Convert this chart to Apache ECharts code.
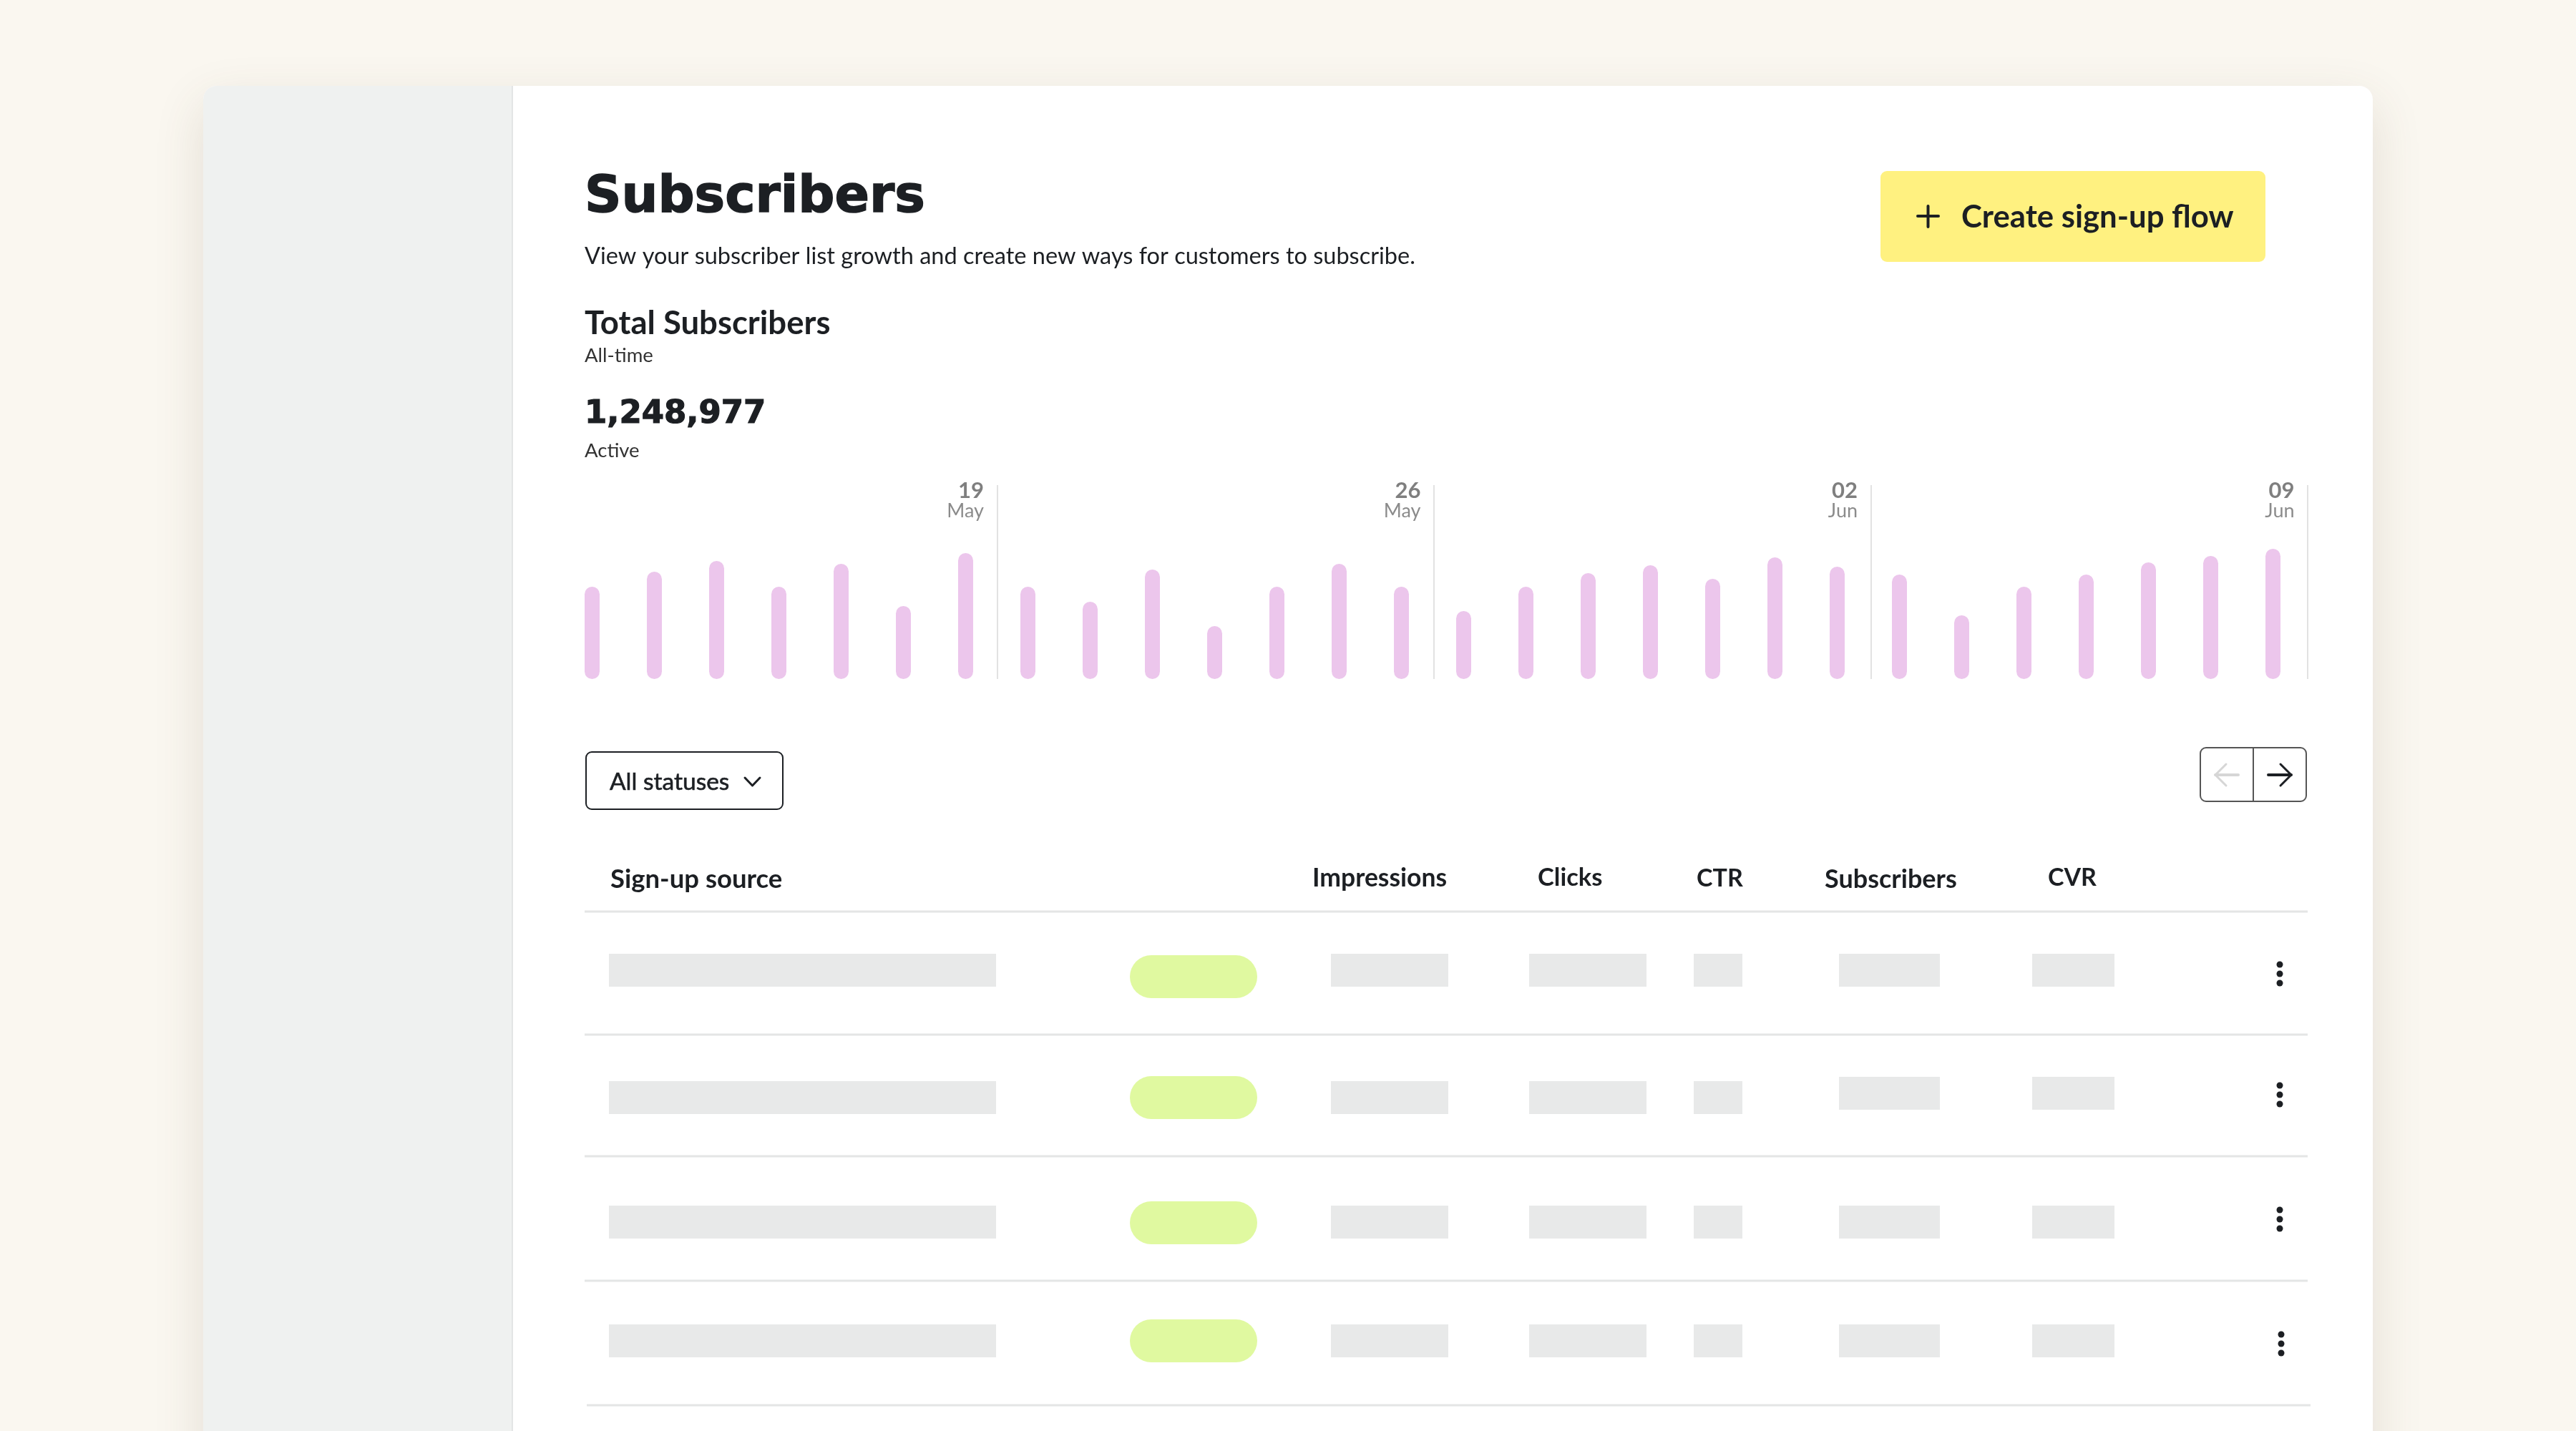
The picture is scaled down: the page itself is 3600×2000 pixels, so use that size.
<!DOCTYPE html>
<html>
<head>
<meta charset="utf-8">
<title>Subscribers</title>
<script src="https://cdn.jsdelivr.net/npm/echarts@6/dist/echarts.min.js"></script>
<style>
    html, body { margin: 0; padding: 0; background: #faf7f0; }
    #main { width: 3600px; height: 2000px; }
</style>
</head>
<body>
<div id="main"></div>
<script>
// daily new subscribers
const dailyValues = [
    129, 150, 165, 129, 161, 102, 176,
    129, 108, 153, 74, 129, 161, 129,
    95, 129, 148, 159, 140, 170, 157,
    146, 89, 129, 146, 163, 172, 182,
];
const dayIndex = dailyValues.map((v, i) => i + 1);

const weekEnds = [7, 14, 21, 28];
const weekDays = ["19", "26", "02", "09"];
const weekMonths = ["May", "May", "Jun", "Jun"];

const tableHeaders = ["Sign-up source", "Impressions", "Clicks", "CTR", "Subscribers", "CVR"];

const SANS = "Lato, 'Noto Sans', sans-serif";
const WIDE = "'DejaVu Sans', sans-serif";
const INK = "#1c1f23";
const RULE = "#e4e5e5";
const CELL = "#e8e9e9";
const PILL = "#e0f9a0";

// table layout, in page pixels
const headerX = [853, 1834, 2149, 2371, 2550, 2862];
const headerY = [1229, 1228, 1227, 1228, 1229, 1227];
const headerSize = [36.5, 35.5, 34.5, 34, 36, 34];
const ruleY = [1274, 1446, 1616, 1790, 1964];
const cellX = [[851, 1392], [1860, 2024], [2137, 2301], [2367, 2435], [2570, 2711], [2840, 2955]];
const rowTop = [1333, 1511, 1685, 1851];
const lateRowTop = [1333, 1505, 1685, 1851]; // last two columns of row 2 sit higher
const pillTop = [1335, 1504, 1679, 1844];
const menuY = [1361, 1530, 1704, 1878];
const menuX = [3186, 3186, 3186, 3188];

function txt(text, x, y, size, weight, color, family, bolder) {
    const style = {
        text: text, x: x, y: y, fill: color || INK,
        fontSize: size, fontWeight: weight || 400, fontFamily: family || SANS,
        textVerticalAlign: "middle",
    };
    if (bolder) {
        // no medium/black cut installed, thicken the outline
        style.stroke = color || INK;
        style.lineWidth = bolder;
    }
    return { type: "text", style: style };
}

function box(x, y, w, h, fill, r) {
    return { type: "rect", shape: { x: x, y: y, width: w, height: h, r: r || 0 }, style: { fill: fill } };
}

function stroke(points, color, width) {
    return {
        type: "polyline",
        shape: { points: points },
        style: { stroke: color, lineWidth: width, fill: null, lineCap: "round", lineJoin: "round" },
    };
}

function buildPage() {
    const els = [];

    // card and sidebar
    els.push({
        type: "rect",
        shape: { x: 284, y: 120, width: 3032, height: 2000, r: 19 },
        style: { fill: "#fff", shadowBlur: 70, shadowColor: "rgba(90,70,50,0.14)", shadowOffsetY: 24 },
    });
    els.push(box(284, 120, 431, 2000, "#eff1f0", [19, 0, 0, 19]));
    els.push(box(715, 120, 2, 2000, "#e3e5e5"));

    // heading block
    els.push(txt("Subscribers", 817, 277, 71.5, 700, INK, WIDE, 1.5));
    els.push(txt("View your subscriber list growth and create new ways for customers to subscribe.", 817, 359, 32.5, 400));
    els.push(txt("Total Subscribers", 817, 452, 45.5, 700));
    els.push(txt("All-time", 817, 497, 27.5, 400, "#333"));
    els.push(txt("1,248,977", 817, 579, 45, 700, INK, WIDE, 1.2));
    els.push(txt("Active", 817, 630, 27.5, 400, "#333"));

    // button
    els.push(box(2628, 239, 538, 127, "#fff180", 9));
    els.push(stroke([[2680, 302], [2709, 302]], INK, 4));
    els.push(stroke([[2694.5, 288], [2694.5, 317]], INK, 4));
    els.push(txt("Create sign-up flow", 2741, 304, 43.7, 700));

    // status dropdown
    els.push({
        type: "rect",
        shape: { x: 819, y: 1051, width: 275, height: 80, r: 8 },
        style: { fill: "#fff", stroke: INK, lineWidth: 2 },
    });
    els.push(txt("All statuses", 852, 1093, 33.5, 400, INK, SANS, 0.6));
    els.push(stroke([[1041, 1087], [1051.5, 1098], [1062, 1087]], INK, 3));

    // pager
    els.push({
        type: "rect",
        shape: { x: 3075, y: 1045, width: 148, height: 75, r: 8 },
        style: { fill: "#fff", stroke: "#555", lineWidth: 2 },
    });
    els.push(stroke([[3149, 1045], [3149, 1120]], "#555", 2));
    els.push(stroke([[3096, 1083], [3128, 1083]], "#d6d6d6", 4));
    els.push(stroke([[3111, 1068], [3096, 1083], [3111, 1098]], "#d6d6d6", 3));
    els.push(stroke([[3170, 1083], [3202, 1083]], INK, 4));
    els.push(stroke([[3187, 1068], [3202, 1083], [3187, 1098]], INK, 3));

    // table
    tableHeaders.forEach((h, i) => {
        els.push(txt(h, headerX[i], headerY[i], headerSize[i], 700));
    });
    ruleY.forEach((y, i) => {
        const last = i === ruleY.length - 1;
        els.push(box(last ? 820 : 817, y - 1.5, last ? 2409 : 2408, 3, RULE));
    });
    rowTop.forEach((top, r) => {
        cellX.forEach((c, i) => {
            const y = i >= 4 ? lateRowTop[r] : top;
            els.push(box(c[0], y, c[1] - c[0], 46, CELL));
        });
        els.push(box(1579, pillTop[r], 178, 60, PILL, 30));
        [-13, 0, 13].forEach((d) => {
            els.push({
                type: "circle",
                shape: { cx: menuX[r], cy: menuY[r] + d, r: 4.5 },
                style: { fill: INK },
            });
        });
    });

    return els;
}

const chart = echarts.init(document.querySelector("#main"));

const option = {
    animation: false,
    backgroundColor: "#faf7f0",
    graphic: { elements: buildPage() },
    grid: [
        { left: 784, width: 2436, top: 678, height: 271 },
        { left: 783, width: 2442, top: 678, height: 271 },
    ],
    xAxis: [
        {
            gridIndex: 0,
            type: "category",
            data: dayIndex,
            axisLine: { show: false },
            axisTick: { show: false },
            axisLabel: { show: false },
        },
        {
            gridIndex: 1,
            type: "value",
            min: 0,
            max: 28,
            interval: 7,
            axisLine: { show: false },
            axisTick: { show: false },
            axisLabel: { show: false },
            splitLine: { show: true, showMinLine: false, lineStyle: { color: "#e2e2e2", width: 2 } },
        },
    ],
    yAxis: [
        { gridIndex: 0, type: "value", min: 0, max: 271, show: false },
        { gridIndex: 1, type: "value", min: 0, max: 271, show: false },
    ],
    series: [
        {
            name: "Subscribers",
            type: "bar",
            xAxisIndex: 0,
            yAxisIndex: 0,
            data: dailyValues,
            barWidth: 21,
            itemStyle: { color: "#ecc6ec", borderRadius: 10.5 },
        },
        {
            name: "Weeks",
            type: "scatter",
            xAxisIndex: 1,
            yAxisIndex: 1,
            data: weekEnds.map((w, i) => ({ value: [w, 249], day: weekDays[i], month: weekMonths[i] })),
            symbolSize: 1,
            itemStyle: { color: "transparent" },
            label: {
                show: true,
                position: "left",
                distance: 18,
                formatter: (p) => `{d|${p.data.day}}\n{m|${p.data.month}}`,
                rich: {
                    d: { fontFamily: SANS, fontSize: 31, fontWeight: 700, color: "#5f5f5f", align: "right", lineHeight: 29 },
                    m: { fontFamily: SANS, fontSize: 27, fontWeight: 400, color: "#6e6e6e", align: "right", lineHeight: 29 },
                },
            },
        },
    ],
};

chart.setOption(option);

window.onresize = function () {
    chart.resize();
};
</script>
</body>
</html>
